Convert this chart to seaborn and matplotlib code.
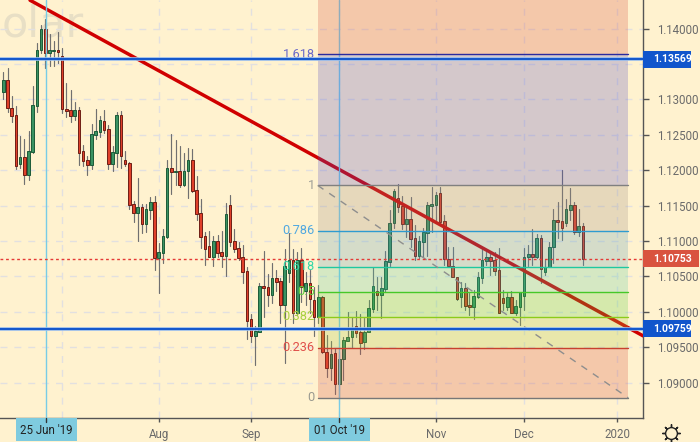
import numpy as np
import pandas as pd
import matplotlib
matplotlib.use("Agg")
import matplotlib.pyplot as plt
import matplotlib.transforms as mtrans
from matplotlib.patches import Rectangle
import seaborn as sns

# EURUSD daily candles
opens = [1.13103,1.13272,1.12877,1.12778,1.12086,1.12185,1.11931,1.12256,1.12905,1.13696,
    1.13993,1.13654,1.13682,1.13696,1.13611,1.12863,1.12849,1.12764,1.12849,1.12270,
    1.12143,1.12072,1.12496,1.12538,1.12693,1.12581,1.12086,1.12242,1.12778,1.12143,
    1.12100,1.11521,1.11394,1.11479,1.11239,1.11437,1.11550,1.10759,1.10830,1.11056,
    1.12030,1.11973,1.11988,1.11790,1.11988,1.12143,1.11719,1.11394,1.11070,1.10928,
    1.10773,1.10999,1.10844,1.10787,1.11507,1.10999,1.10900,1.10773,1.10575,1.09898,
    1.09658,1.09714,1.10364,1.10350,1.10237,1.10477,1.10434,1.10095,1.10547,1.10731,
    1.09982,1.10731,1.10293,1.10406,1.10166,1.09926,1.10208,1.09432,1.09206,1.09418,
    1.08980,1.09333,1.09587,1.09643,1.09799,1.09714,1.09573,1.09714,1.10039,1.10293,
    1.10237,1.10321,1.10703,1.11253,1.11606,1.11493,1.11239,1.11310,1.11042,1.10787,
    1.10985,1.11112,1.11493,1.11507,1.11677,1.11282,1.10745,1.10646,1.10491,1.10208,
    1.10336,1.10095,1.10067,1.10208,1.10477,1.10717,1.10773,1.10731,1.10590,1.10194,
    1.10067,1.10208,1.09982,1.10067,1.10223,1.10773,1.10816,1.10773,1.11042,1.10561,
    1.10632,1.10914,1.11296,1.11282,1.11253,1.11437,1.11507,1.11126,1.11211]
highs = [1.13385,1.13442,1.13046,1.12905,1.12482,1.12439,1.12552,1.13188,1.13795,1.14049,
    1.14134,1.13922,1.13823,1.13950,1.13724,1.13230,1.13131,1.12962,1.12891,1.12355,
    1.12199,1.12651,1.12863,1.12764,1.12849,1.12637,1.12340,1.12821,1.12835,1.12270,
    1.12115,1.11564,1.11889,1.11521,1.11521,1.11620,1.11634,1.10971,1.11169,1.12143,
    1.12510,1.12425,1.12340,1.12242,1.12312,1.12298,1.11917,1.11592,1.11126,1.11140,
    1.11070,1.11084,1.11140,1.11536,1.11649,1.11169,1.10985,1.10943,1.10632,1.09968,
    1.09799,1.10406,1.10858,1.10533,1.10688,1.10590,1.10477,1.10886,1.11112,1.10886,
    1.10844,1.10900,1.10561,1.10590,1.10350,1.10378,1.10223,1.09672,1.09587,1.09488,
    1.09432,1.09643,1.09997,1.09926,1.10011,1.09968,1.09912,1.10166,1.10632,1.10491,
    1.10491,1.10858,1.11437,1.11733,1.11804,1.11634,1.11479,1.11620,1.11225,1.11070,
    1.11183,1.11550,1.11762,1.11691,1.11762,1.11366,1.10914,1.10914,1.10491,1.10420,
    1.10406,1.10265,1.10307,1.10561,1.10900,1.10844,1.10830,1.10844,1.10900,1.10307,
    1.10265,1.10293,1.10166,1.10279,1.10900,1.10943,1.11169,1.11098,1.11084,1.10731,
    1.10985,1.11451,1.11550,1.12002,1.11592,1.11747,1.11550,1.11451,1.11253]
lows = [1.13004,1.12821,1.12679,1.12016,1.12030,1.11804,1.11860,1.12242,1.12821,1.13654,
    1.13442,1.13470,1.13470,1.13512,1.12806,1.12750,1.12679,1.12708,1.12072,1.12058,
    1.11931,1.12016,1.12439,1.12468,1.12524,1.12016,1.11988,1.12044,1.12030,1.12058,
    1.11451,1.11267,1.10999,1.11112,1.11126,1.11310,1.10590,1.10265,1.10688,1.11042,
    1.11663,1.11790,1.11762,1.11776,1.11606,1.11691,1.11296,1.10900,1.10660,1.10773,
    1.10646,1.10773,1.10632,1.10505,1.10928,1.10844,1.10731,1.10406,1.09615,1.09573,
    1.09248,1.09714,1.09926,1.10081,1.10124,1.10293,1.09841,1.09277,1.10420,1.09841,
    1.09954,1.10138,1.10095,1.09982,1.09658,1.09841,1.09418,1.09079,1.09037,1.08839,
    1.08797,1.09037,1.09587,1.09502,1.09643,1.09403,1.09474,1.09714,1.09997,1.10025,
    1.09912,1.10279,1.10646,1.11183,1.11409,1.11169,1.11056,1.10914,1.10731,1.10759,
    1.10773,1.10787,1.11126,1.11296,1.11253,1.10660,1.10632,1.10491,1.10166,1.10067,
    1.10025,1.09954,1.09898,1.10194,1.10406,1.10660,1.10519,1.10519,1.09982,1.10025,
    1.10025,1.09982,1.09954,1.09813,1.10025,1.10646,1.10660,1.10759,1.10406,1.10519,
    1.10632,1.10688,1.11042,1.11013,1.11211,1.11296,1.11098,1.11070,1.10660]
closes = [1.13272,1.12877,1.12764,1.12058,1.12185,1.11931,1.12270,1.12919,1.13696,1.13993,
    1.13654,1.13696,1.13696,1.13668,1.12863,1.12835,1.12764,1.12849,1.12242,1.12129,
    1.12072,1.12510,1.12552,1.12708,1.12566,1.12086,1.12256,1.12778,1.12199,1.12086,
    1.11507,1.11394,1.11479,1.11239,1.11451,1.11550,1.10759,1.10844,1.11070,1.12030,
    1.11973,1.11988,1.11790,1.11988,1.12143,1.11705,1.11380,1.11056,1.10886,1.10773,
    1.10999,1.10830,1.10787,1.11380,1.10985,1.10886,1.10759,1.10561,1.09869,1.09658,
    1.09728,1.10364,1.10336,1.10237,1.10477,1.10420,1.10095,1.10646,1.10731,1.09982,
    1.10731,1.10350,1.10406,1.10180,1.09926,1.10208,1.09432,1.09206,1.09403,1.08980,
    1.09333,1.09601,1.09643,1.09770,1.09700,1.09559,1.09714,1.10053,1.10364,1.10237,
    1.10336,1.10717,1.11253,1.11705,1.11479,1.11239,1.11310,1.11027,1.10787,1.10999,
    1.11126,1.11507,1.11521,1.11649,1.11267,1.10745,1.10646,1.10491,1.10180,1.10336,
    1.10081,1.10067,1.10223,1.10491,1.10731,1.10773,1.10717,1.10575,1.09982,1.10124,
    1.10208,1.09982,1.10081,1.10279,1.10773,1.10816,1.10773,1.11042,1.10604,1.10632,
    1.10914,1.11296,1.11267,1.11183,1.11451,1.11507,1.11126,1.11211,1.10753]

# fibonacci levels
fib_names = ["0", "0.236", "0.382", "0.5", "0.618", "0.786", "1", "1.618"]
fib_prices = [1.08786, 1.09494, 1.09932, 1.10286, 1.10640, 1.11144, 1.11786, 1.13640]
fib_line_colors = ["#777777", "#C8402E", "#8CCB1A", "#46C828", "#1FC8A0", "#2E9BD0", "#808080", "#2A2A9E"]
fib_text_colors = ["#9A9A90", "#E0504A", "#A8D040", "#60D040", "#35D8A8", "#50A8E0", "#A0A098", "#6A6AC8"]
zone_colors = ["#D44E3C", "#A8CA40", "#58D244", "#58CEA0", "#589EB8", "#9C8E80", "#544EC0", "#D44E3C"]
fib_x = [74.86, 148.8]

trend_x = [6.36, 152.31]
trend_y = [1.14402, 1.09662]
resist_price = 1.13569
support_price = 1.09759
last_price = 1.10753

price_ticks = [1.09, 1.095, 1.10, 1.105, 1.11, 1.115, 1.12, 1.125, 1.13, 1.135, 1.14]
# the 1.135 label and the Jul/Oct labels sit under the tags in the chart
price_labels = ["1.09000", "1.09500", "1.10000", "1.10500", "1.11000", "1.11500", "1.12000", "1.12500", "1.13000", "", "1.14000"]
month_pos = [14, 37.1, 59.05, 80, 103.1, 124.05, 146.2]
month_labels = ["", "Aug", "Sep", "", "Nov", "Dec", "2020"]
cross_pos = [10.24, 80]
cross_labels = ["25 Jun '19", "01 Oct '19"]

BG = "#FFF2CF"
TXT = "#6A6A6A"

sns.set_theme(style="white")
plt.rcParams["font.family"] = ["Roboto", "DejaVu Sans"]

fig = plt.figure(figsize=(7, 4.42), dpi=100, facecolor=BG)
ax = fig.add_axes([0, 24 / 442, 643 / 700, 418 / 442], facecolor=BG)
ax.set_xlim(-0.786, 152.31)
ax.set_ylim(1.08501, 1.14405)

tag_tr = mtrans.blended_transform_factory(ax.transAxes, ax.transData)

# watermark, what is left of it in view
ax.text(2 / 643, 1.13892, "olar", transform=tag_tr, ha="left", va="baseline", fontsize=31,
        family="DejaVu Sans", color="#E8DFC5", zorder=0)

for p in price_ticks:
    ax.axhline(p, color="#E2E0E0", lw=1, ls=(0, (5, 5)), zorder=0.5)
for p in month_pos:
    ax.axvline(p, color="#E2E0E0", lw=1, ls=(0, (5, 5)), zorder=0.5)

# wicks through seaborn, one line unit per candle
idx = np.arange(len(opens))
wicks = pd.DataFrame({
    "x": np.r_[idx, idx],
    "price": np.r_[lows, highs],
    "candle": np.r_[idx, idx],
})
sns.lineplot(data=wicks, x="x", y="price", units="candle", estimator=None, sort=False,
             color="#707070", lw=0.85, ax=ax, zorder=2, legend=False)

o = np.array(opens)
c = np.array(closes)
up = c >= o
body_low = np.minimum(o, c)
body_h = np.abs(c - o)
ax.bar(idx[up], body_h[up], bottom=body_low[up], width=0.62, color="#3A9262",
       edgecolor="#1C5A38", linewidth=0.7, zorder=3)
ax.bar(idx[~up], body_h[~up], bottom=body_low[~up], width=0.62, color="#E0402A",
       edgecolor="#6E1E14", linewidth=0.7, zorder=3)

# trend line
sns.lineplot(x=trend_x, y=trend_y, color="#D00000", lw=2.5, ax=ax, zorder=4, legend=False)

# crosshair lines
for p in cross_pos:
    ax.axvline(p, color="#78CCE6", lw=1, zorder=4.5)

# fib zones lie over the candles, that is what tints them
edges = fib_prices + [ax.get_ylim()[1]]
for i, col in enumerate(zone_colors):
    ax.fill_between(fib_x, edges[i], edges[i + 1], color=col, alpha=0.25, lw=0, zorder=5)
for p, col in zip(fib_prices, fib_line_colors):
    ax.plot(fib_x, [p, p], color=col, lw=1, zorder=6)
for name, p, col in zip(fib_names, fib_prices, fib_text_colors):
    ax.text(fib_x[0] - 0.7, p, name, ha="right", va="center", fontsize=9.2, color=col, zorder=6.5)

# fib diagonal
sns.lineplot(x=fib_x, y=[fib_prices[6], fib_prices[0]], color="#8E8E8E", lw=1,
             ls=(0, (5, 5)), ax=ax, zorder=6, legend=False)

for p in [resist_price, support_price]:
    ax.axhline(p, color="#9CC0F0", lw=2.6, zorder=7)
    ax.axhline(p, color="#1558CC", lw=1.5, zorder=7.1)
ax.axhline(last_price, color="#E53935", lw=1, ls=(0, (2, 2)), zorder=7)

# axes
for s in ["top", "left"]:
    ax.spines[s].set_visible(False)
for s in ["right", "bottom"]:
    ax.spines[s].set_color("#555555")
    ax.spines[s].set_linewidth(1)
ax.yaxis.tick_right()
ax.set_yticks(price_ticks)
ax.set_yticklabels(price_labels)
ax.set_xticks(month_pos)
ax.set_xticklabels(month_labels)
ax.set_xlabel("")
ax.set_ylabel("")
ax.tick_params(axis="y", length=4, width=1, color="#555555", labelcolor=TXT, labelsize=8.3, pad=6, right=True)
ax.tick_params(axis="x", length=3, width=1, color="#555555", labelcolor=TXT, labelsize=8.3, pad=4, bottom=True)

# price tags right of the scale
for p, col, w in [(resist_price, "#1155CC", 48), (support_price, "#1155CC", 48), (last_price, "#D9533F", 56)]:
    ax.add_patch(Rectangle((1, p - 0.0012), w / 643, 0.0024, transform=tag_tr, facecolor=col,
                           edgecolor="none", clip_on=False, zorder=10))
    ax.text(653 / 643, p, f"{p:.5f}", transform=tag_tr, ha="left", va="center", color="white",
            fontsize=7.5, fontweight="bold", zorder=11, clip_on=False)

# date tags under the crosshair lines
date_tr = mtrans.blended_transform_factory(ax.transData, ax.transAxes)
for p, lab in zip(cross_pos, cross_labels):
    ax.add_patch(Rectangle((p - 7.3, -23 / 418), 14.6, 23 / 418, transform=date_tr, facecolor="#7FCBDF",
                           edgecolor="none", clip_on=False, zorder=10))
    ax.plot([p, p], [-4 / 418, 0], transform=date_tr, color="#333333", lw=1, clip_on=False, zorder=11)
    ax.text(p, -12 / 418, lab, transform=date_tr, ha="center", va="center", color="#222222",
            fontsize=8.3, clip_on=False, zorder=11)

# settings icon
ax.plot([671 / 643], [-15 / 418], transform=ax.transAxes, marker=(8, 2, 0), ms=13, mew=1, color="#222222",
        clip_on=False, zorder=11)
ax.plot([671 / 643], [-15 / 418], transform=ax.transAxes, marker="o", ms=8.5, mew=1, mfc=BG, mec="#222222",
        clip_on=False, zorder=12)

fig.savefig("out.png", dpi=100, facecolor=BG)
